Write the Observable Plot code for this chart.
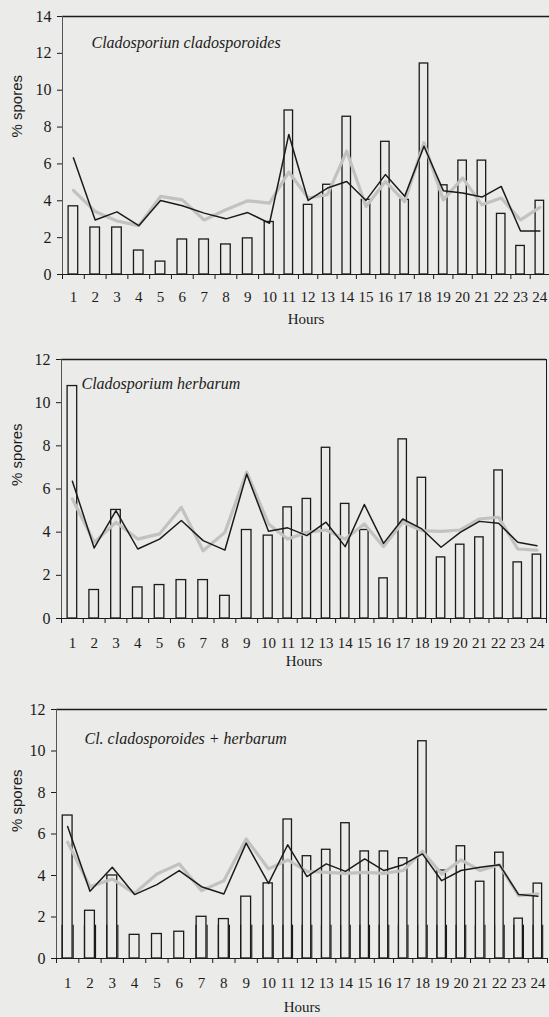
<!DOCTYPE html>
<html><head><meta charset="utf-8">
<script src="https://cdn.jsdelivr.net/npm/d3@7"></script>
<script src="https://cdn.jsdelivr.net/npm/@observablehq/plot@0.6"></script>
<style>
html,body{margin:0;padding:0;background:#ebebe9;}
#wrap{position:relative;width:549px;height:1017px;overflow:hidden;background:#ebebe9;}
#wrap svg{position:absolute;left:0;background:transparent;}
</style></head><body><div id="wrap"></div>
<script>
const hours = d3.range(1, 25);
const xLabels = hours.map(String);

const p1Title = "Cladosporiun cladosporoides";
const p1Bars  = [3.7,2.55,2.55,1.3,0.7,1.9,1.9,1.63,1.96,2.85,8.9,3.78,4.87,8.56,4.05,7.2,4.05,11.45,4.84,6.18,6.18,3.29,1.55,4.0];
const p1Black = [6.33,2.96,3.4,2.65,4.02,3.73,3.33,3.02,3.36,2.78,7.6,4.02,4.69,5.05,4.02,5.42,4.24,6.96,4.55,4.42,4.2,4.78,2.36,2.36];
const p1Grey  = [4.56,3.42,2.9,2.65,4.24,4.05,2.96,3.51,4.0,3.87,5.56,4.15,4.33,6.69,3.69,5.05,3.96,7.15,4.05,5.24,3.78,4.15,2.96,3.64];

const p2Title = "Cladosporium herbarum";
const p2Bars  = [10.77,1.32,5.03,1.44,1.55,1.78,1.78,1.05,4.1,3.84,5.15,5.54,7.91,5.31,4.1,1.86,8.3,6.52,2.83,3.42,3.76,6.86,2.6,2.96];
const p2Black = [6.36,3.27,5.0,3.22,3.68,4.54,3.61,3.17,6.7,4.04,4.2,3.84,4.46,3.33,5.28,3.48,4.61,4.15,3.3,3.99,4.5,4.41,3.53,3.37];
const p2Grey  = [5.54,3.53,4.46,3.68,3.92,5.15,3.14,3.99,6.78,4.38,3.68,3.99,4.1,3.68,4.38,3.33,4.46,4.07,4.04,4.1,4.61,4.69,3.22,3.17];

const p3Title = "Cl. cladosporoides + herbarum";
const p3Bars  = [6.89,2.3,4.0,1.14,1.18,1.29,2.01,1.9,2.98,3.62,6.7,4.93,5.24,6.52,5.16,5.16,4.83,10.47,4.24,5.41,3.7,5.1,1.92,3.61];
const p3Black = [6.36,3.24,4.4,3.08,3.56,4.24,3.46,3.11,5.56,3.62,5.48,3.95,4.56,4.2,4.8,4.24,4.52,5.04,3.75,4.24,4.4,4.52,3.08,3.0];
const p3Grey  = [5.6,3.46,3.83,3.14,4.07,4.56,3.27,3.75,5.76,4.32,4.75,4.2,4.15,4.1,4.15,4.1,4.24,5.17,4.07,4.75,4.24,4.52,3.03,3.11];
// hours where the scan shows short vertical strokes near the base (panel 3)
const p3CombHours = hours.filter(h => h < 4 || h > 6);

const yLabel = "% spores";
const xTitle = "Hours";

const SERIF = "'Liberation Serif', 'DejaVu Serif', serif";
const SANS = "'Liberation Sans', Arial, sans-serif";
const INK = "#1b1b1b";

function panel(o) {
  const rows = (arr) => hours.map((h, i) => ({h, v: arr[i]}));
  const bars = rows(o.bars), black = rows(o.black), grey = rows(o.grey);
  const bounds = d3.range(0.5, 25, 1);
  const comb = (o.comb || []).flatMap(h => [h - 0.25, h + 0.25]);
  const marks = [
    Plot.ruleY([o.yMax], {stroke: INK, strokeWidth: 1.3}),
    o.rightBorder ? Plot.ruleX([24.5], {stroke: INK, strokeWidth: 1}) : null,
    Plot.ruleX(comb, {x: d => d, y1: 0, y2: 1.6, stroke: INK, strokeWidth: 1.1}),
    Plot.rectY(bars, {x1: d => d.h - 0.22, x2: d => d.h + 0.22, y1: 0, y2: "v", fill: "none", stroke: INK, strokeWidth: 1.3}),
    Plot.line(grey, {x: "h", y: "v", stroke: "#c2c2c2", strokeWidth: 3.2}),
    Plot.line(black, {x: "h", y: "v", stroke: INK, strokeWidth: 1.5}),
    Plot.ruleY([0], {stroke: INK, strokeWidth: 1.2}),
    Plot.ruleX([0.5], {stroke: "#555", strokeWidth: 1}),
    Plot.axisY({ticks: o.yTicks, tickSize: 5, tickPadding: 6, label: null, fontSize: 16, fill: INK}),
    Plot.axisX({ticks: bounds, tickSize: 5, tickFormat: () => "", label: null}),
    Plot.axisX({ticks: hours, tickSize: 0, tickPadding: o.xPad, label: null, tickFormat: d => xLabels[d - 1], fontSize: 15, fill: INK}),
    Plot.text([o.title], {text: d => d, frameAnchor: "top-left", dx: o.titleDx, dy: o.titleDy, textAnchor: "start",
      fontStyle: "italic", fontFamily: SERIF, fontSize: 16, fill: INK}),
    Plot.text([yLabel], {text: d => d, frameAnchor: "left", rotate: -90, dx: o.yLabDx, dy: o.yLabDy, fontFamily: SANS, fontSize: 15, fill: INK}),
    Plot.text([xTitle], {text: d => d, frameAnchor: "bottom", dy: o.hoursDy, fontFamily: SERIF, fontSize: 15, fill: INK})
  ].filter(Boolean);
  const svg = Plot.plot({
    width: 549,
    height: o.height,
    marginTop: o.marginTop,
    marginBottom: o.marginBottom,
    marginLeft: o.xRange[0],
    marginRight: 549 - o.xRange[2],
    style: {fontFamily: SERIF, fontSize: "15px", color: INK, background: "transparent"},
    x: {type: "linear", domain: [0.5, 10, 24.5], range: o.xRange},
    y: {domain: [0, o.yMax]},
    marks
  });
  svg.style.top = o.top + "px";
  document.getElementById("wrap").appendChild(svg);
}

panel({bars: p1Bars, black: p1Black, grey: p1Grey, title: p1Title, yMax: 14, yTicks: d3.range(0, 15, 2),
  top: 0, height: 335, marginTop: 16, marginBottom: 61, xRange: [62, 269, 549], xPad: 17,
  titleDx: 29, titleDy: 20, yLabDx: -45, yLabDy: -8, hoursDy: 49});
panel({bars: p2Bars, black: p2Black, grey: p2Grey, title: p2Title, yMax: 12, yTicks: d3.range(0, 13, 2),
  top: 335, height: 340, marginTop: 24, marginBottom: 57, xRange: [61, 268, 546], xPad: 19, rightBorder: true,
  titleDx: 20, titleDy: 18, yLabDx: -44, yLabDy: -3, hoursDy: 47});
panel({bars: p3Bars, black: p3Black, grey: p3Grey, title: p3Title, yMax: 12, yTicks: d3.range(0, 13, 2), comb: p3CombHours,
  top: 675, height: 342, marginTop: 34, marginBottom: 59, xRange: [56, 268, 547], xPad: 19,
  titleDx: 28, titleDy: 23, yLabDx: -39, yLabDy: -2, hoursDy: 53});
</script>
</body></html>
